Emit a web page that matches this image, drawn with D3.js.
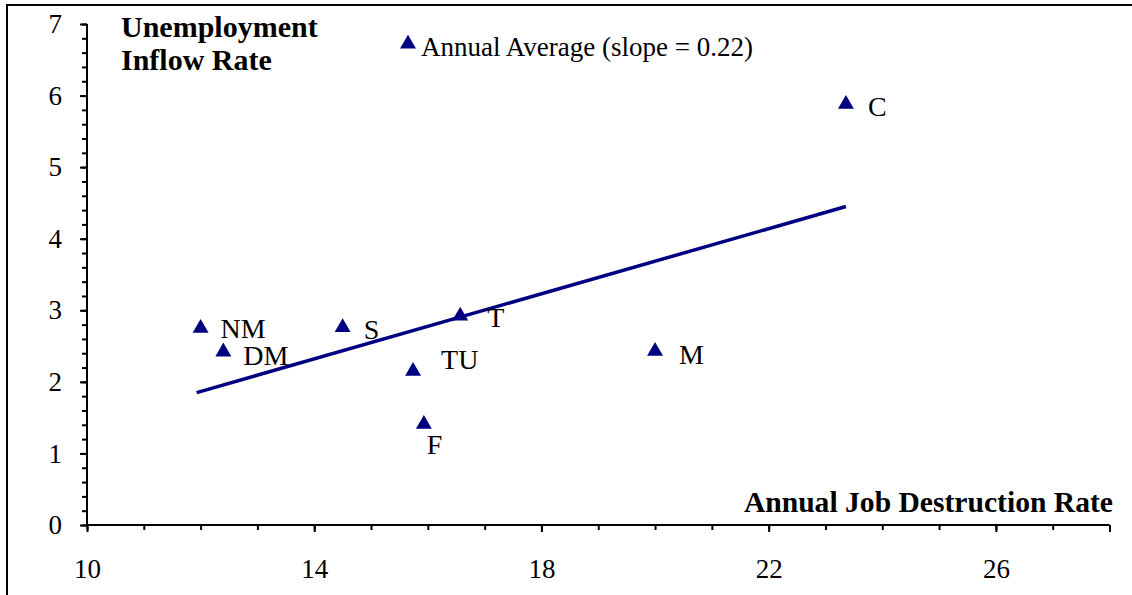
<!DOCTYPE html>
<html>
<head>
<meta charset="utf-8">
<script src="https://cdn.jsdelivr.net/npm/d3@7"></script>
<style>
  html, body { margin: 0; padding: 0; background: #fff; }
  svg { display: block; }
  text { font-family: "Liberation Serif", "Times New Roman", serif; fill: #000; }
</style>
</head>
<body>
<svg id="chart" width="1132" height="595"></svg>
<script>
// ---- data ----
const sectors = ["NM", "DM", "S", "TU", "F", "T", "M", "C"];
const jobDestruction = [12.0, 12.4, 14.5, 15.74, 15.93, 16.57, 20.0, 23.36];
const inflowRate = [2.75, 2.42, 2.76, 2.15, 1.41, 2.92, 2.43, 5.88];
const trendX = [11.93, 23.36];
const trendY = [1.85, 4.45];
const xTickLabels = [10, 14, 18, 22, 26];
const yTickLabels = [0, 1, 2, 3, 4, 5, 6, 7];
const legendLabel = "Annual Average (slope = 0.22)";
const yTitle = ["Unemployment", "Inflow Rate"];
const xTitle = "Annual Job Destruction Rate";

// ---- label placement (layout only) ----
const labelOffset = {
  NM: [20, 10], DM: [20, 13], S: [21, 12], TU: [28, -2],
  F: [3, 30], T: [27, 11], M: [24, 13], C: [22, 12]
};

const navy = "#000080";
const svg = d3.select("#chart");

// frame
svg.append("path").attr("d", "M7,595 V5 H1132")
  .attr("fill", "none").attr("stroke", "#000").attr("stroke-width", 2);

const x = d3.scaleLinear().domain([10, 28]).range([87, 1109.5]);
const y = d3.scaleLinear().domain([0, 7]).range([525, 24]);

// minor ticks
const xMinor = d3.range(10, 28.001, 1);
const yMinor = d3.range(0, 7.001, 0.2);

const gx = svg.append("g").attr("transform", `translate(0,${y(0)})`);
gx.call(d3.axisBottom(x).tickValues(xMinor).tickSize(5).tickFormat(""))
  .call(g => g.select(".domain").remove());
gx.append("g").call(d3.axisBottom(x).tickValues(xTickLabels.concat([28])).tickSize(7)
  .tickFormat(d => xTickLabels.includes(d) ? d : "").tickPadding(27))
  .call(g => g.select(".domain").attr("stroke-width", 2).attr("d", `M${x(10)},0H${x(28)}`));
gx.selectAll("line").attr("stroke", "#000").attr("stroke-width", 2);
gx.selectAll("text").attr("font-size", 27).attr("font-family", "Liberation Serif").attr("fill", "#000");

const gy = svg.append("g").attr("transform", `translate(${x(10)},0)`);
gy.call(d3.axisLeft(y).tickValues(yMinor).tickSize(5).tickFormat(""))
  .call(g => g.select(".domain").remove());
gy.append("g").call(d3.axisLeft(y).tickValues(yTickLabels).tickSize(7).tickFormat(d3.format("d")).tickPadding(18))
  .call(g => g.select(".domain").attr("stroke-width", 2).attr("d", `M0,${y(0)}V${y(7)}`));
gy.selectAll("line").attr("stroke", "#000").attr("stroke-width", 2);
gy.selectAll("text").attr("font-size", 27).attr("font-family", "Liberation Serif").attr("fill", "#000").attr("dy", "0.32em");

// trend line
const line = d3.line().x(d => x(d[0])).y(d => y(d[1]));
svg.append("path")
  .datum(trendX.map((v, i) => [v, trendY[i]]))
  .attr("d", line)
  .attr("fill", "none").attr("stroke", navy).attr("stroke-width", 3.5);

// points
const tri = d3.symbol().type(d3.symbolTriangle).size(110);
const pts = sectors.map((s, i) => ({ s, x: jobDestruction[i], y: inflowRate[i] }));
svg.append("g").selectAll("path").data(pts).join("path")
  .attr("d", tri)
  .attr("transform", d => `translate(${x(d.x)},${y(d.y)})`)
  .attr("fill", navy);

svg.append("g").selectAll("text").data(pts).join("text")
  .attr("x", d => x(d.x) + labelOffset[d.s][0])
  .attr("y", d => y(d.y) + labelOffset[d.s][1])
  .attr("font-size", 28)
  .text(d => d.s);

// legend
svg.append("path").attr("d", tri).attr("transform", "translate(408,44)").attr("fill", navy);
svg.append("text").attr("x", 421).attr("y", 56).attr("font-size", 27).text(legendLabel);

// titles
svg.append("text").attr("font-size", 30).attr("font-weight", "bold")
  .selectAll("tspan").data(yTitle).join("tspan")
  .attr("x", 121).attr("y", (d, i) => 37 + i * 33).text(d => d);

svg.append("text").attr("x", 1113).attr("y", 512).attr("text-anchor", "end")
  .attr("font-size", 29.6).attr("font-weight", "bold").text(xTitle);
</script>
</body>
</html>
